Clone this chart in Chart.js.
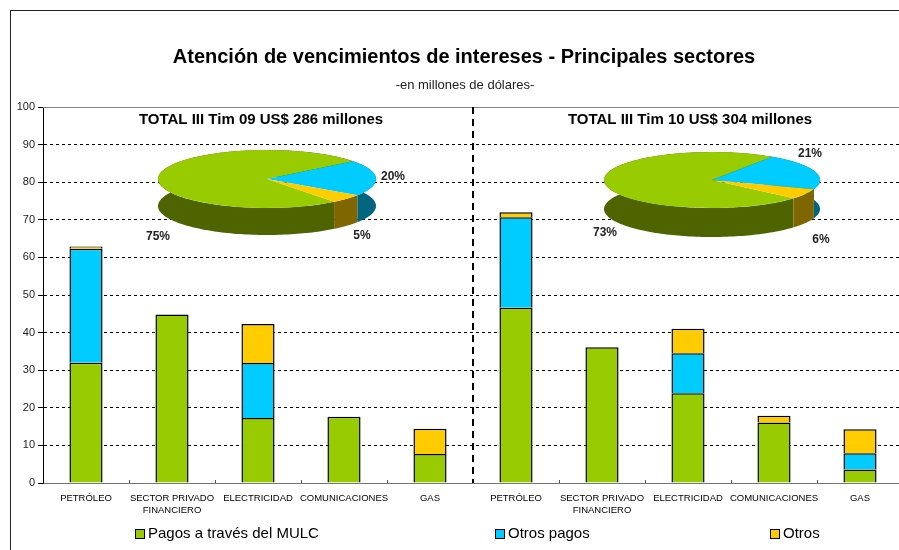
<!DOCTYPE html>
<html>
<head>
<meta charset="utf-8">
<script src="https://cdn.jsdelivr.net/npm/chart.js@4.4.0/dist/chart.umd.min.js"></script>
<style>
  body { margin: 0; background: #fff; }
  #wrap { position: relative; width: 899px; height: 550px; overflow: hidden; }
  #frame { position: absolute; left: 10px; top: 10px; width: 1000px; height: 1000px; border: 1px solid #222; }
  canvas { position: absolute; pointer-events: none; }
  #main { left: 0; top: 0; }
  #pie1 { left: 158px; top: 70px; }
  #pie2 { left: 604px; top: 72px; }
  .pct { position: absolute; font: bold 12px 'Liberation Sans', Arial, sans-serif; color: #222; transform: translate(-50%, -50%); white-space: nowrap; }
</style>
</head>
<body>
<div id="wrap">
  <div id="frame"></div>
  <canvas id="main" width="920" height="550"></canvas>
  <canvas id="pie1" width="218" height="218"></canvas>
  <canvas id="pie2" width="216" height="216"></canvas>
</div>
<script>
// sectors, repeated for III Tim 09 and III Tim 10
const sectors = ['PETRÓLEO', ['SECTOR PRIVADO', 'FINANCIERO'], 'ELECTRICIDAD', 'COMUNICACIONES', 'GAS'];
const categories = [...sectors, ...sectors];

// millones de US$
const pagosMulc  = [32.0, 44.8, 17.3, 17.6, 7.7, 46.6, 36.1, 23.9, 16.1, 3.6];
const otrosPagos = [30.3, null, 14.6, null, null, 24.1, null, 10.6, null, 4.3];
const otros      = [0.6, null, 10.4, null, 6.7, 1.3, null, 6.5, 1.8, 6.4];

const chartTitle = 'Atención de vencimientos de intereses - Principales sectores';
const chartSubtitle = '-en millones de dólares-';
const periodTitles = ['TOTAL III Tim 09 US$ 286 millones', 'TOTAL III Tim 10 US$ 304 millones'];

// pie shares (%): MULC, otros pagos, otros
const pie09 = [75, 20, 5];
const pie10 = [73, 21, 6];

const seriesNames = ['Pagos a través del MULC', 'Otros pagos', 'Otros'];
const colors = ['#99CC00', '#00CCFF', '#FFCC00'];
const sideColors = ['#4D6400', '#006680', '#806600'];

const FONT = "'Liberation Sans', Arial, sans-serif";
const legendX = [135, 495, 770];

const decor = {
  id: 'decor',
  afterDraw(chart) {
    const ctx = chart.ctx;
    const area = chart.chartArea;
    const xs = chart.scales.x;
    const divX = (xs.getPixelForValue(4) + xs.getPixelForValue(5)) / 2;
    ctx.save();
    // titles
    ctx.fillStyle = '#000';
    ctx.textAlign = 'center';
    ctx.textBaseline = 'middle';
    ctx.font = 'bold 20px ' + FONT;
    ctx.fillText(chartTitle, 464, 57);
    ctx.fillStyle = '#222';
    ctx.font = '13px ' + FONT;
    ctx.fillText(chartSubtitle, 465, 85);
    // top border of plot
    ctx.strokeStyle = '#808080';
    ctx.lineWidth = 1;
    ctx.beginPath();
    ctx.moveTo(area.left, area.top + 0.5);
    ctx.lineTo(area.right, area.top + 0.5);
    ctx.stroke();
    // small inner ticks on x axis
    ctx.strokeStyle = '#555';
    for (let i = 1; i < categories.length; i++) {
      const x = Math.round((xs.getPixelForValue(i - 1) + xs.getPixelForValue(i)) / 2) + 0.5;
      ctx.beginPath();
      ctx.moveTo(x, area.bottom);
      ctx.lineTo(x, area.bottom - 3);
      ctx.stroke();
    }
    // divider between periods
    ctx.strokeStyle = '#000';
    ctx.lineWidth = 2;
    ctx.setLineDash([7, 5]);
    ctx.beginPath();
    ctx.moveTo(divX, area.top);
    ctx.lineTo(divX, area.bottom);
    ctx.stroke();
    ctx.setLineDash([]);
    // period titles
    ctx.fillStyle = '#000';
    ctx.font = 'bold 15px ' + FONT;
    ctx.fillText(periodTitles[0], (area.left + divX) / 2 + 3, area.top + 13);
    ctx.fillText(periodTitles[1], (divX + area.right) / 2 + 2, area.top + 13);
    // legend
    ctx.font = '15px ' + FONT;
    ctx.textAlign = 'left';
    ctx.lineWidth = 1;
    chart.data.datasets.forEach((ds, i) => {
      const x = legendX[i];
      ctx.fillStyle = ds.backgroundColor;
      ctx.fillRect(x + 0.5, 529.5, 9, 9);
      ctx.strokeStyle = '#000';
      ctx.strokeRect(x + 0.5, 529.5, 9, 9);
      ctx.fillStyle = '#000';
      ctx.fillText(ds.label, x + 13, 534);
    });
    ctx.restore();
  }
};

new Chart(document.getElementById('main'), {
  type: 'bar',
  data: {
    labels: categories,
    datasets: [
      { label: seriesNames[0], data: pagosMulc, backgroundColor: colors[0] },
      { label: seriesNames[1], data: otrosPagos, backgroundColor: colors[1] },
      { label: seriesNames[2], data: otros, backgroundColor: colors[2] }
    ]
  },
  options: {
    responsive: false,
    animation: false,
    events: [],
    layout: { padding: { left: 10, right: 17, top: 107, bottom: 30 } },
    datasets: {
      bar: { borderColor: '#000', borderWidth: 1.5, categoryPercentage: 1, barPercentage: 0.385 }
    },
    plugins: {
      legend: { display: false },
      tooltip: { enabled: false },
      title: { display: false },
      subtitle: { display: false }
    },
    scales: {
      x: {
        stacked: true,
        afterFit: s => { s.height = 37; },
        grid: { display: false },
        border: { color: '#777', width: 1 },
        ticks: { color: '#000', font: { family: FONT, size: 9.5 }, padding: 2, maxRotation: 0, autoSkip: false }
      },
      y: {
        stacked: true,
        min: 0,
        max: 100,
        afterFit: s => { s.width = 33; },
        ticks: { stepSize: 10, color: '#222', font: { family: FONT, size: 11 }, padding: 3 },
        grid: {
          color: c => (c.tick && (c.tick.value === 0 || c.tick.value === 100)) ? 'rgba(0,0,0,0)' : '#000',
          tickColor: '#000',
          tickLength: 5,
          lineWidth: 1
        },
        border: { color: '#000', width: 1, dash: [3, 3] }
      }
    }
  },
  plugins: [decor]
});

function makePie(id, values, rotation, ry, depth) {
  const tilt = {
    id: 'tilt',
    beforeDatasetsDraw(chart) {
      const ctx = chart.ctx;
      const arcs = chart.getDatasetMeta(0).data;
      const c = arcs[0].getProps(['x', 'y', 'outerRadius'], true);
      arcs.forEach((arc, i) => {
        const p = arc.getProps(['startAngle', 'endAngle'], true);
        const steps = 160;
        ctx.beginPath();
        for (let s = 0; s <= steps; s++) {
          const t = p.startAngle + (p.endAngle - p.startAngle) * s / steps;
          ctx.lineTo(c.x + c.outerRadius * Math.cos(t), c.y + ry * Math.sin(t));
        }
        for (let s = steps; s >= 0; s--) {
          const t = p.startAngle + (p.endAngle - p.startAngle) * s / steps;
          ctx.lineTo(c.x + c.outerRadius * Math.cos(t), c.y + depth + ry * Math.sin(t));
        }
        ctx.closePath();
        ctx.fillStyle = sideColors[i];
        ctx.fill();
      });
      ctx.save();
      ctx.translate(0, c.y);
      ctx.scale(1, ry / c.outerRadius);
      ctx.translate(0, -c.y);
    },
    afterDatasetsDraw(chart) {
      chart.ctx.restore();
    }
  };
  return new Chart(document.getElementById(id), {
    type: 'pie',
    data: {
      labels: seriesNames,
      datasets: [{ data: values, backgroundColor: colors, borderWidth: 0 }]
    },
    options: {
      responsive: false,
      animation: false,
      events: [],
      rotation: rotation,
      layout: { padding: 0 },
      plugins: { legend: { display: false }, tooltip: { enabled: false } }
    },
    plugins: [tilt]
  });
}

makePie('pie1', pie09, 142, 29, 27);
makePie('pie2', pie10, 131, 28, 29);

// percentage labels around the pies
const pctPos09 = [[158, 236], [393, 176], [362, 235]];
const pctPos10 = [[605, 232], [810, 153], [821, 239]];
const wrap = document.getElementById('wrap');
[[pie09, pctPos09], [pie10, pctPos10]].forEach(([vals, pos]) => {
  vals.forEach((v, i) => {
    const d = document.createElement('div');
    d.className = 'pct';
    d.textContent = v + '%';
    d.style.left = pos[i][0] + 'px';
    d.style.top = pos[i][1] + 'px';
    wrap.appendChild(d);
  });
});
</script>
</body>
</html>
